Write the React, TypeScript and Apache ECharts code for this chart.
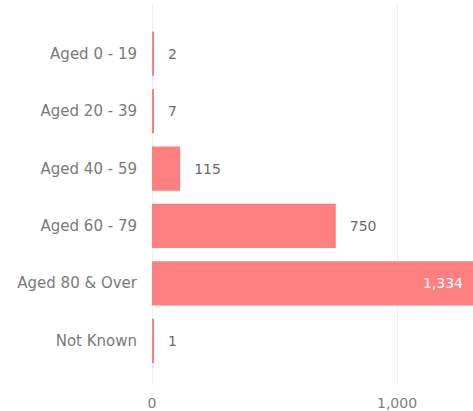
import React, { useEffect, useRef } from "react";
import * as echarts from "echarts";

const categories = ["Aged 0 - 19", "Aged 20 - 39", "Aged 40 - 59", "Aged 60 - 79", "Aged 80 & Over", "Not Known"];
const values = [2, 7, 115, 750, 1334, 1];
const axisMax = 1310;
const tickInterval = 1000;

const fmt = (v: number) => v.toLocaleString("en-US");

export default function App() {
  const ref = useRef<HTMLDivElement>(null);
  useEffect(() => {
    if (!ref.current) return;
    const chart = echarts.init(ref.current, null, { renderer: "svg" });
    const font = "'DejaVu Sans', sans-serif";
    chart.setOption({
      animation: false,
      grid: [
        { left: 152, right: 0, top: 5, bottom: 26, containLabel: false },
        { left: 152, right: 0, top: 25, bottom: 41.5, containLabel: false },
      ],
      xAxis: [
        {
          gridIndex: 0,
          type: "value",
          min: 0,
          max: axisMax,
          interval: tickInterval,
          axisLine: { show: false },
          axisTick: { show: false },
          splitLine: { show: true, lineStyle: { color: "#eeeeee", width: 1 } },
          axisLabel: {
            showMaxLabel: false,
            color: "#808080",
            fontSize: 14,
            fontFamily: font,
            margin: 11,
            formatter: (v: number) => fmt(v),
          },
        },
        {
          gridIndex: 1,
          type: "value",
          min: 0,
          max: axisMax,
          interval: tickInterval,
          show: false,
          splitLine: { show: false },
        },
      ],
      yAxis: [
        { gridIndex: 0, type: "value", show: false, min: 0, max: 1, splitLine: { show: false } },
        {
          gridIndex: 1,
          type: "category",
          data: categories,
          inverse: true,
          axisLine: { show: false },
          axisTick: { show: false },
          splitLine: { show: false },
          axisLabel: { color: "#7a7a7a", fontSize: 15, fontFamily: font, margin: 15 },
        },
      ],
      series: [
        {
          type: "bar",
          xAxisIndex: 1,
          yAxisIndex: 1,
          barCategoryGap: "23%",
          barMinHeight: 2,
          itemStyle: { color: "#FD7F7F" },
          data: values.map((v) => ({
            value: v,
            label:
              v > axisMax
                ? { position: "insideRight", color: "#ffffff", distance: 10, fontSize: 14 }
                : { position: "right", color: "#6a6a6a", distance: 14 },
          })),
          label: {
            show: true,
            fontSize: 14,
            fontFamily: font,
            formatter: (p: any) => fmt(p.value),
          },
        },
      ],
    });
    return () => chart.dispose();
  }, []);
  return <div ref={ref} style={{ position: "absolute", left: 0, top: 0, width: 473, height: 411 }} />;
}
